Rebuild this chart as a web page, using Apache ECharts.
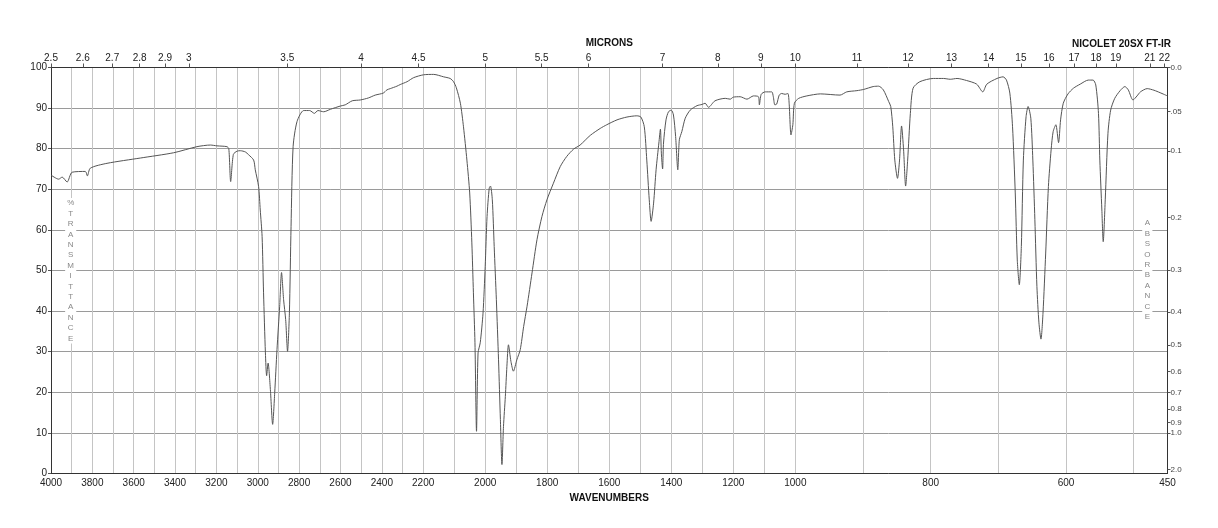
<!DOCTYPE html>
<html>
<head>
<meta charset="utf-8">
<script src="https://cdn.jsdelivr.net/npm/echarts@6/dist/echarts.min.js"></script>
<style>
  html, body { margin: 0; background: #fff; }
  #chart { width: 1218px; height: 528px; }
</style>
</head>
<body>
<div id="chart"></div>
<script>
// spectrum (cm-1, %T)
const wavenumbers = [
  4000, 3963, 3946, 3922, 3898, 3834, 3824, 3810, 3729, 3568, 3407, 3294, 3229, 3197, 3149,
  3140, 3131, 3118, 3100, 3084, 3060, 3044, 3020, 3012, 2996, 2988, 2979, 2972, 2963, 2957,
  2950, 2939, 2928, 2918, 2907, 2894, 2885, 2875, 2865, 2856, 2847, 2839, 2829, 2810, 2778,
  2749, 2726, 2709, 2681, 2649, 2601, 2577, 2543, 2504, 2465, 2432, 2393, 2375, 2359, 2327,
  2311, 2278, 2246, 2199, 2166, 2134, 2113, 2102, 2093, 2080, 2070, 2059, 2050, 2043, 2038,
  2033, 2028, 2023, 2016, 2007, 2000, 1994, 1987, 1983, 1977, 1971, 1964, 1957, 1951, 1946,
  1941, 1935, 1930, 1925, 1917, 1909, 1898, 1887, 1876, 1865, 1849, 1833, 1817, 1801, 1780,
  1758, 1737, 1715, 1694, 1661, 1629, 1608, 1575, 1543, 1511, 1498, 1487, 1479, 1471, 1465,
  1457, 1449, 1440, 1435, 1432, 1428, 1425, 1417, 1409, 1400, 1393, 1386, 1379, 1374, 1366,
  1355, 1339, 1317, 1301, 1291, 1280, 1259, 1226, 1210, 1200, 1178, 1156, 1135, 1119, 1116,
  1110, 1097, 1076, 1071, 1066, 1060, 1052, 1044, 1033, 1024, 1020, 1014, 1008, 1003, 995,
  983, 963, 934, 924, 909, 899, 885, 877, 870, 862, 859, 856, 853, 849, 846,
  843, 840, 837, 834, 830, 826, 816, 796, 781, 771, 761, 747, 732, 723, 717,
  702, 693, 688, 683, 679, 675, 672, 669, 666, 663, 659, 656, 652, 649, 646,
  643, 640, 637, 634, 630, 626, 622, 619, 615, 611, 608, 604, 597, 589, 579,
  567, 560, 556, 552, 550, 547, 545, 542, 538, 534, 528, 520, 513, 508, 501,
  495, 490, 480, 470, 461, 450
]
const transmittance = [
  73.5, 72.5, 73.0, 71.8, 74.2, 74.4, 73.3, 75.2, 76.4, 77.7, 79.0, 80.5, 80.9, 80.7, 80.5,
  80.0, 71.9, 78.6, 79.4, 79.5, 79.2, 78.5, 77.2, 74.8, 70.7, 64.9, 58.4, 44.5, 29.7, 24.1,
  27.2, 20.7, 12.1, 19.9, 30.5, 41.2, 49.5, 42.8, 37.9, 30.1, 39.5, 60.8, 80.5, 86.7, 89.4,
  89.4, 88.7, 89.4, 89.1, 89.7, 90.5, 90.8, 91.8, 92.0, 92.5, 93.2, 93.7, 94.5, 94.8, 95.4,
  95.8, 96.5, 97.5, 98.2, 98.3, 97.7, 97.3, 96.5, 95.0, 91.2, 85.4, 77.2, 69.1, 56.8, 44.5,
  32.2, 10.4, 29.7, 32.2, 39.5, 51.0, 63.3, 70.3, 70.8, 67.4, 55.9, 42.8, 28.0, 13.3, 2.2,
  11.6, 19.0, 26.4, 31.7, 27.6, 25.2, 28.0, 30.5, 36.2, 41.2, 49.4, 57.6, 63.3, 67.4, 71.5,
  75.6, 78.1, 79.9, 80.9, 83.3, 85.0, 85.9, 87.1, 87.8, 88.1, 87.8, 85.4, 77.2, 67.4, 62.1,
  66.6, 74.8, 81.4, 84.8, 78.9, 75.0, 81.4, 87.1, 89.1, 89.5, 88.3, 83.0, 74.8, 82.2, 84.2,
  87.5, 89.5, 90.6, 90.9, 91.2, 90.2, 91.8, 92.4, 92.2, 92.7, 92.8, 92.2, 93.0, 92.8, 90.8,
  93.4, 94.0, 94.0, 92.8, 90.8, 91.0, 93.2, 93.6, 93.4, 93.6, 91.2, 83.4, 85.9, 91.2, 92.4,
  93.0, 93.5, 93.2, 94.0, 94.3, 94.6, 95.3, 95.4, 94.5, 91.6, 90.4, 85.4, 77.2, 72.7, 77.2,
  85.6, 79.7, 70.8, 77.2, 88.7, 94.9, 96.5, 97.3, 97.3, 97.1, 97.3, 96.8, 95.9, 94.0, 95.9,
  97.3, 97.7, 96.9, 93.7, 85.4, 69.1, 52.6, 46.5, 55.9, 77.2, 87.9, 90.4, 87.5, 77.2, 62.5,
  46.1, 37.1, 33.1, 39.5, 54.3, 70.7, 79.7, 84.2, 85.9, 81.5, 87.1, 91.2, 93.5, 94.9, 95.9,
  96.9, 96.9, 95.7, 88.7, 77.2, 64.9, 57.1, 67.4, 83.8, 89.5, 92.4, 94.3, 95.3, 94.5, 92.0,
  93.0, 94.0, 94.8, 94.4, 93.8, 93.0
]

const wavenumberLabels = [4000, 3800, 3600, 3400, 3200, 3000, 2800, 2600, 2400, 2200,
  2000, 1800, 1600, 1400, 1200, 1000, 800, 600, 450]
const wavenumberGrid = [3900, 3800, 3700, 3600, 3500, 3400, 3300, 3200, 3100, 3000, 2900,
  2800, 2700, 2600, 2500, 2400, 2300, 2200, 2100, 2000, 1900, 1800, 1700, 1600, 1500, 1400,
  1300, 1200, 1100, 1000, 900, 800, 700, 600, 500]
const micronLabels = [2.5, 2.6, 2.7, 2.8, 2.9, 3, 3.5, 4, 4.5, 5, 5.5, 6, 7, 8, 9, 10,
  11, 12, 13, 14, 15, 16, 17, 18, 19, 21, 22]
const absorbanceValues = [0, 0.05, 0.1, 0.2, 0.3, 0.4, 0.5, 0.6, 0.7, 0.8, 0.9, 1.0, 2.0]
const absorbanceLabels = ['0.0', '.05', '0.1', '0.2', '0.3', '0.4', '0.5', '0.6', '0.7',
  '0.8', '0.9', '1.0', '2.0']

// the x scale is in 3 pieces: 4000-2200, 2200-1000, 1000-450, each a third of the width
function warp(w) {
  if (w >= 2200) return 4000 - w
  if (w >= 1000) return 1800 + (2200 - w) * 1.5
  return 3600 + (1000 - w) * 1800 / 550
}
function unwarp(u) {
  if (u <= 1800) return 4000 - u
  if (u <= 3600) return 2200 - (u - 1800) / 1.5
  return 1000 - (u - 3600) * 550 / 1800
}
const toT = a => 100 * Math.pow(10, -a)

const font = 'Liberation Sans, Arial, Helvetica, sans-serif'
const spectrum = wavenumbers.map((w, i) => [warp(w), transmittance[i]])

const chart = echarts.init(document.getElementById('chart'))
chart.setOption({
  animation: false,
  backgroundColor: '#fff',
  textStyle: { fontFamily: font },
  grid: { left: 51, right: 50.5, top: 67.5, bottom: 54.5 },
  xAxis: [
    {
      type: 'value',
      position: 'bottom',
      min: 0,
      max: 5400,
      name: 'WAVENUMBERS',
      nameLocation: 'middle',
      nameGap: 20,
      nameTextStyle: { fontWeight: 'bold', fontSize: 10, color: '#111', fontFamily: font },
      axisLine: { onZero: false, lineStyle: { color: '#333', width: 1 } },
      axisTick: { show: false, customValues: wavenumberGrid.map(warp) },
      splitLine: { show: true, lineStyle: { color: '#c4c4c4', width: 1 } },
      axisLabel: {
        customValues: wavenumberLabels.map(warp),
        formatter: v => String(Math.round(unwarp(v))),
        fontSize: 10, color: '#222', margin: 5, fontFamily: font
      }
    },
    {
      type: 'value',
      position: 'top',
      min: 0,
      max: 5400,
      name: 'MICRONS',
      nameLocation: 'middle',
      nameGap: 15,
      nameTextStyle: { fontWeight: 'bold', fontSize: 10, color: '#111', fontFamily: font },
      axisLine: { onZero: false, lineStyle: { color: '#333', width: 1 } },
      axisTick: { show: true, length: 4, customValues: micronLabels.map(m => warp(10000 / m)),
        lineStyle: { color: '#555' } },
      splitLine: { show: false },
      axisLabel: {
        customValues: micronLabels.map(m => warp(10000 / m)),
        formatter: v => String(Number((10000 / unwarp(v)).toFixed(1))),
        fontSize: 10, color: '#222', margin: 4, fontFamily: font
      }
    }
  ],
  yAxis: [
    {
      type: 'value',
      position: 'left',
      min: 0,
      max: 100,
      interval: 10,
      axisLine: { show: true, onZero: false, lineStyle: { color: '#333', width: 1 } },
      axisTick: { show: true, length: 3, lineStyle: { color: '#555' } },
      splitLine: { show: true, lineStyle: { color: '#9a9a9a', width: 1 } },
      axisLabel: { fontSize: 10, color: '#222', margin: 4, fontFamily: font }
    },
    {
      type: 'value',
      position: 'right',
      min: 0,
      max: 100,
      axisLine: { show: true, onZero: false, lineStyle: { color: '#333', width: 1 } },
      axisTick: { show: true, length: 3, customValues: absorbanceValues.map(toT),
        lineStyle: { color: '#555' } },
      splitLine: { show: false },
      axisLabel: {
        customValues: absorbanceValues.map(toT),
        formatter: v => {
          const a = -Math.log10(v / 100)
          const i = absorbanceValues.findIndex(x => Math.abs(x - a) < 1e-6)
          return i < 0 ? '' : absorbanceLabels[i]
        },
        fontSize: 8, color: '#444', margin: 3, fontFamily: font
      }
    }
  ],
  graphic: [
    {
      type: 'text', x: 1171, y: 44, z: 10,
      style: { text: 'NICOLET 20SX FT-IR', fill: '#111', align: 'right',
        verticalAlign: 'middle', font: 'bold 10px ' + font }
    },
    {
      type: 'text', x: 70.7, y: 198, z: 10,
      style: { text: '%TRANSMITTANCE'.split('').join('\n'), fill: '#888', align: 'center',
        verticalAlign: 'top', lineHeight: 10.4, fontSize: 8, fontFamily: font,
        backgroundColor: '#fff', padding: [0, 2] }
    },
    {
      type: 'text', x: 1147.3, y: 218, z: 10,
      style: { text: 'ABSORBANCE'.split('').join('\n'), fill: '#888', align: 'center',
        verticalAlign: 'top', lineHeight: 10.4, fontSize: 8, fontFamily: font,
        backgroundColor: '#fff', padding: [0, 2] }
    }
  ],
  series: [
    {
      type: 'line',
      data: spectrum,
      showSymbol: false,
      smooth: 0.25,
      lineStyle: { color: '#555', width: 1 },
      z: 5
    }
  ]
})
</script>
</body>
</html>
